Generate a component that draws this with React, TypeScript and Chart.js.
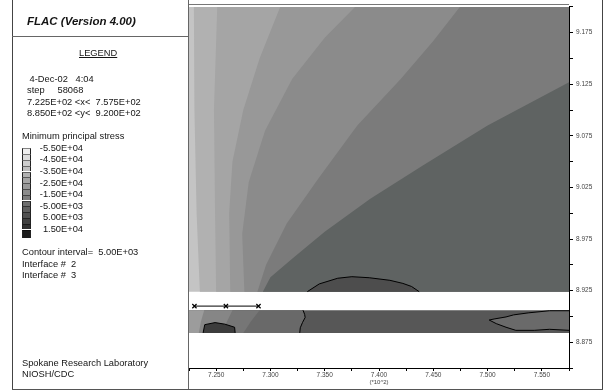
import React, { useEffect, useRef } from "react";
import { Chart, registerables } from "chart.js";
Chart.register(...registerables);

type Pt = [number, number];

// ---- axis ranges (model units, x and y in *10^2) ----
const X_MIN = 722.5;
const X_MAX = 757.5;
const Y_MIN = 885;
const Y_MAX = 920;
const UPPER_BOTTOM = 892.4;
const BAND_TOP = 890.6;
const BAND_BOTTOM = 888.4;

// ---- contour boundaries of the upper block (bottom -> top / right edge) ----
const contour1: Pt[] = [[723.5, 892.4], [723.2, 900], [723.0, 910], [722.95, 920]];
const contour2: Pt[] = [[725.0, 892.4], [724.9, 900], [724.8, 910], [725.1, 920]];
const contour3: Pt[] = [[726.3, 892.4], [726.2, 900], [726.5, 905], [727.5, 910], [729.0, 915], [730.9, 920]];
const contour4: Pt[] = [[727.6, 892.4], [727.4, 898], [728.0, 903], [729.5, 908], [732.0, 913], [735.0, 917], [737.8, 920]];
const contour5: Pt[] = [[728.8, 892.4], [729.6, 895], [731.5, 899], [734.5, 903.5], [738.0, 908.5], [742.0, 913], [745.0, 916.7], [747.45, 920]];
const contour6: Pt[] = [[729.3, 892.4], [730.0, 893.8], [732.0, 895.6], [735.0, 898.2], [739.2, 901.4], [744.0, 904.6], [750.0, 908.5], [757.5, 912.7]];
const upperBlob: Pt[] = [[733.4, 892.4], [734.5, 893.15], [736.2, 893.7], [737.5, 893.85], [739.1, 893.75], [741.0, 893.5], [742.2, 893.2], [743.0, 892.9], [743.7, 892.4]];

// ---- lower (interface) band ----
const bandDivider: Pt[] = [[733.0, 890.6], [733.15, 890.2], [733.2, 889.9], [732.95, 889.4], [732.75, 888.9], [732.7, 888.4]];
const bandShadeA: Pt[] = [[729.0, 890.6], [728.2, 889.5], [727.5, 888.4]];
const bandShadeB: Pt[] = [[726.5, 890.6], [726.0, 889.5], [725.5, 888.4]];
const bandShadeC: Pt[] = [[723.9, 890.6], [723.6, 889.5], [723.4, 888.4]];
const lowerLeftBlob: Pt[] = [[723.8, 888.4], [723.95, 889.2], [724.9, 889.4], [725.8, 889.25], [726.7, 888.95], [726.75, 888.4]];
const lowerRightBlob: Pt[] = [[757.5, 890.55], [755.7, 890.55], [753.8, 890.35], [752.4, 890.15], [751.7, 889.95], [750.6, 889.75], [750.15, 889.65], [750.8, 889.3], [751.7, 888.95], [752.6, 888.65], [754.3, 888.65], [755.7, 888.75], [757.5, 888.65]];
const gridMarkers: Pt[] = [[723.0, 891.0], [725.9, 891.0], [728.9, 891.0]];

// ---- colours ----
const upperColors = ["#c4c4c4", "#b1b1b1", "#a5a5a5", "#989898", "#8b8b8b", "#7b7b7b", "#5f6362"];
const upperBlobColor = "#4d4d4d";
const bandColors = ["#575757", "#696969", "#767676", "#868686", "#9c9c9c"];
const lowerLeftBlobColor = "#3c3c3c";
const lowerRightBlobColor = "#6a6a6a";

// ---- legend ----
const legendLevels = ["-5.50E+04", "-4.50E+04", "-3.50E+04", "-2.50E+04", "-1.50E+04", "-5.00E+03", "5.00E+03", "1.50E+04"];
const legendSwatches = ["#eeeeee", "#dcdcdc", "#cdcdcd", "#bfbfbf", "#b2b2b2", "#a5a5a5", "#989898", "#8b8b8b", "#7c7c7c", "#6e6e6e", "#5f5f5f", "#505050", "#404040", "#303030", "#1c1c1c"];

const FONT = '"Liberation Sans", Arial, sans-serif';

const rect = (x0: number, y0: number, x1: number, y1: number): Pt[] => [[x0, y0], [x0, y1], [x1, y1], [x1, y0]];
const rightOfTop = (c: Pt[]): Pt[] => [...c, [X_MAX, Y_MAX], [X_MAX, UPPER_BOTTOM]];
const rightOfSide = (c: Pt[]): Pt[] => [...c, [X_MAX, UPPER_BOTTOM]];
const leftOfBand = (c: Pt[]): Pt[] => [[X_MIN, BAND_TOP], ...c, [X_MIN, BAND_BOTTOM]];

type Layer = { pts: Pt[]; fill?: string; stroke?: string; markers?: boolean };

const layers: Layer[] = [
  { pts: rect(X_MIN, UPPER_BOTTOM, X_MAX, Y_MAX), fill: upperColors[0] },
  { pts: rightOfTop(contour1), fill: upperColors[1] },
  { pts: rightOfTop(contour2), fill: upperColors[2] },
  { pts: rightOfTop(contour3), fill: upperColors[3] },
  { pts: rightOfTop(contour4), fill: upperColors[4] },
  { pts: rightOfTop(contour5), fill: upperColors[5] },
  { pts: rightOfSide(contour6), fill: upperColors[6] },
  { pts: upperBlob, fill: upperBlobColor, stroke: "#000" },
  { pts: rect(X_MIN, BAND_BOTTOM, X_MAX, BAND_TOP), fill: bandColors[0] },
  { pts: leftOfBand(bandDivider), fill: bandColors[1] },
  { pts: leftOfBand(bandShadeA), fill: bandColors[2] },
  { pts: leftOfBand(bandShadeB), fill: bandColors[3] },
  { pts: leftOfBand(bandShadeC), fill: bandColors[4] },
  { pts: bandDivider, stroke: "#000" },
  { pts: lowerLeftBlob, fill: lowerLeftBlobColor, stroke: "#000" },
  { pts: lowerRightBlob, fill: lowerRightBlobColor, stroke: "#000" },
  { pts: gridMarkers, stroke: "#000", markers: true },
];

const isMultiple = (v: number, base: number, step: number) => {
  const q = (v - base) / step;
  return Math.abs(q - Math.round(q)) < 1e-6;
};

function Txt(props: { x: number; cy: number; size?: number; lh?: number; style?: React.CSSProperties; children: React.ReactNode }) {
  const size = props.size ?? 9.3;
  const lh = props.lh ?? 11;
  return (
    <div
      style={{
        position: "absolute",
        left: props.x,
        top: props.cy - lh / 2,
        lineHeight: lh + "px",
        fontSize: size,
        fontFamily: FONT,
        whiteSpace: "pre",
        color: "#151515",
        ...props.style,
      }}
    >
      {props.children}
    </div>
  );
}

function Line(props: { x: number; y: number; w: number; h: number; c?: string }) {
  return <div style={{ position: "absolute", left: props.x, top: props.y, width: props.w, height: props.h, background: props.c ?? "#555" }} />;
}

export default function App() {
  const ref = useRef<HTMLCanvasElement>(null);

  useEffect(() => {
    if (!ref.current) return;
    const datasets = layers.map((l, i) => ({
      data: l.pts.map(([x, y]) => ({ x, y })),
      backgroundColor: l.fill ?? "rgba(0,0,0,0)",
      borderColor: l.stroke ?? "rgba(0,0,0,0)",
      borderWidth: l.stroke ? 1 : 0,
      fill: l.fill ? "shape" : false,
      tension: 0,
      pointRadius: l.markers ? 3 : 0,
      pointStyle: "crossRot",
      pointBorderColor: "#000",
      pointBorderWidth: 1.2,
      order: layers.length - i,
    }));

    const chart = new Chart(ref.current, {
      type: "line",
      data: { datasets: datasets as any },
      options: {
        animation: false,
        responsive: false,
        devicePixelRatio: 1,
        events: [],
        layout: { padding: { left: 189, top: 4, right: 0, bottom: 0 } },
        plugins: { legend: { display: false }, tooltip: { enabled: false } },
        scales: {
          x: {
            type: "linear",
            position: "bottom",
            min: X_MIN,
            max: X_MAX,
            afterFit: (s: any) => {
              s.height = 23;
            },
            ticks: {
              stepSize: 2.5,
              autoSkip: false,
              maxRotation: 0,
              padding: 0,
              color: "#444",
              font: { family: FONT, size: 6.5 },
              callback: (v: any) => (isMultiple(Number(v), 725, 5) ? (Number(v) / 100).toFixed(3) : ""),
            },
            grid: { drawOnChartArea: false, drawTicks: true, tickLength: 3, color: "#000" },
            border: { display: true, color: "#000", width: 1 },
            title: { display: true, text: "(*10^2)", color: "#444", font: { family: FONT, size: 6 }, padding: { top: 0, bottom: 5.4 } },
          },
          y: {
            type: "linear",
            position: "right",
            min: Y_MIN,
            max: Y_MAX,
            afterFit: (s: any) => {
              s.width = 37;
            },
            ticks: {
              stepSize: 2.5,
              autoSkip: false,
              padding: 3,
              color: "#444",
              font: { family: FONT, size: 6.5 },
              callback: (v: any) => (isMultiple(Number(v), 887.5, 5) ? (Number(v) / 100).toFixed(3) : ""),
            },
            grid: { drawOnChartArea: false, drawTicks: true, tickLength: 4, color: "#000" },
            border: { display: true, color: "#000", width: 1 },
          },
        },
      },
    });
    return () => chart.destroy();
  }, []);

  const swH = 5.8;
  const swTop = 148.3;

  return (
    <div style={{ position: "absolute", left: 0, top: 0, width: 606, height: 391, background: "#fff", overflow: "hidden" }}>
      <canvas ref={ref} width={606} height={391} style={{ position: "absolute", left: 0, top: 0, width: 606, height: 391 }} />

      {/* frame */}
      <Line x={12} y={0} w={1} h={390} c="#444" />
      <Line x={188} y={0} w={1} h={390} c="#666" />
      <Line x={602} y={0} w={1} h={390} c="#444" />
      <Line x={12} y={389} w={591} h={1} c="#555" />
      <Line x={12} y={36} w={177} h={1} c="#666" />
      <Line x={189} y={4} w={380} h={1} c="#777" />

      {/* legend panel */}
      <Txt x={27} cy={21} size={11.5} lh={14} style={{ fontWeight: "bold", fontStyle: "italic" }}>
        FLAC (Version 4.00)
      </Txt>
      <Txt x={79} cy={53.5} style={{ textDecoration: "underline" }}>
        LEGEND
      </Txt>
      <Txt x={27} cy={79.7}>{" 4-Dec-02   4:04"}</Txt>
      <Txt x={27} cy={90.7}>{"step     58068"}</Txt>
      <Txt x={27} cy={102}>{"7.225E+02 <x<  7.575E+02"}</Txt>
      <Txt x={27} cy={113.3}>{"8.850E+02 <y<  9.200E+02"}</Txt>
      <Txt x={22} cy={136.7}>Minimum principal stress</Txt>

      {legendSwatches.map((c, k) => (
        <div
          key={"sw" + k}
          style={{
            position: "absolute",
            left: 22,
            top: swTop + k * swH,
            width: 9,
            height: k === legendSwatches.length - 1 ? swH + 2.5 : swH,
            background: c,
            borderLeft: "1px solid #222",
            borderRight: "1px solid #222",
            borderTop: "1px solid rgba(0,0,0,0.45)",
            boxSizing: "border-box",
          }}
        />
      ))}
      {legendLevels.map((t, j) => (
        <Txt key={"lv" + j} x={30} cy={swTop + j * 2 * swH} style={{ width: 53, textAlign: "right" }}>
          {t}
        </Txt>
      ))}

      <Txt x={22} cy={252.7}>{"Contour interval=  5.00E+03"}</Txt>
      <Txt x={22} cy={264}>{"Interface #  2"}</Txt>
      <Txt x={22} cy={275.3}>{"Interface #  3"}</Txt>

      <Txt x={22} cy={363.5}>Spokane Research Laboratory</Txt>
      <Txt x={22} cy={374}>NIOSH/CDC</Txt>
    </div>
  );
}
